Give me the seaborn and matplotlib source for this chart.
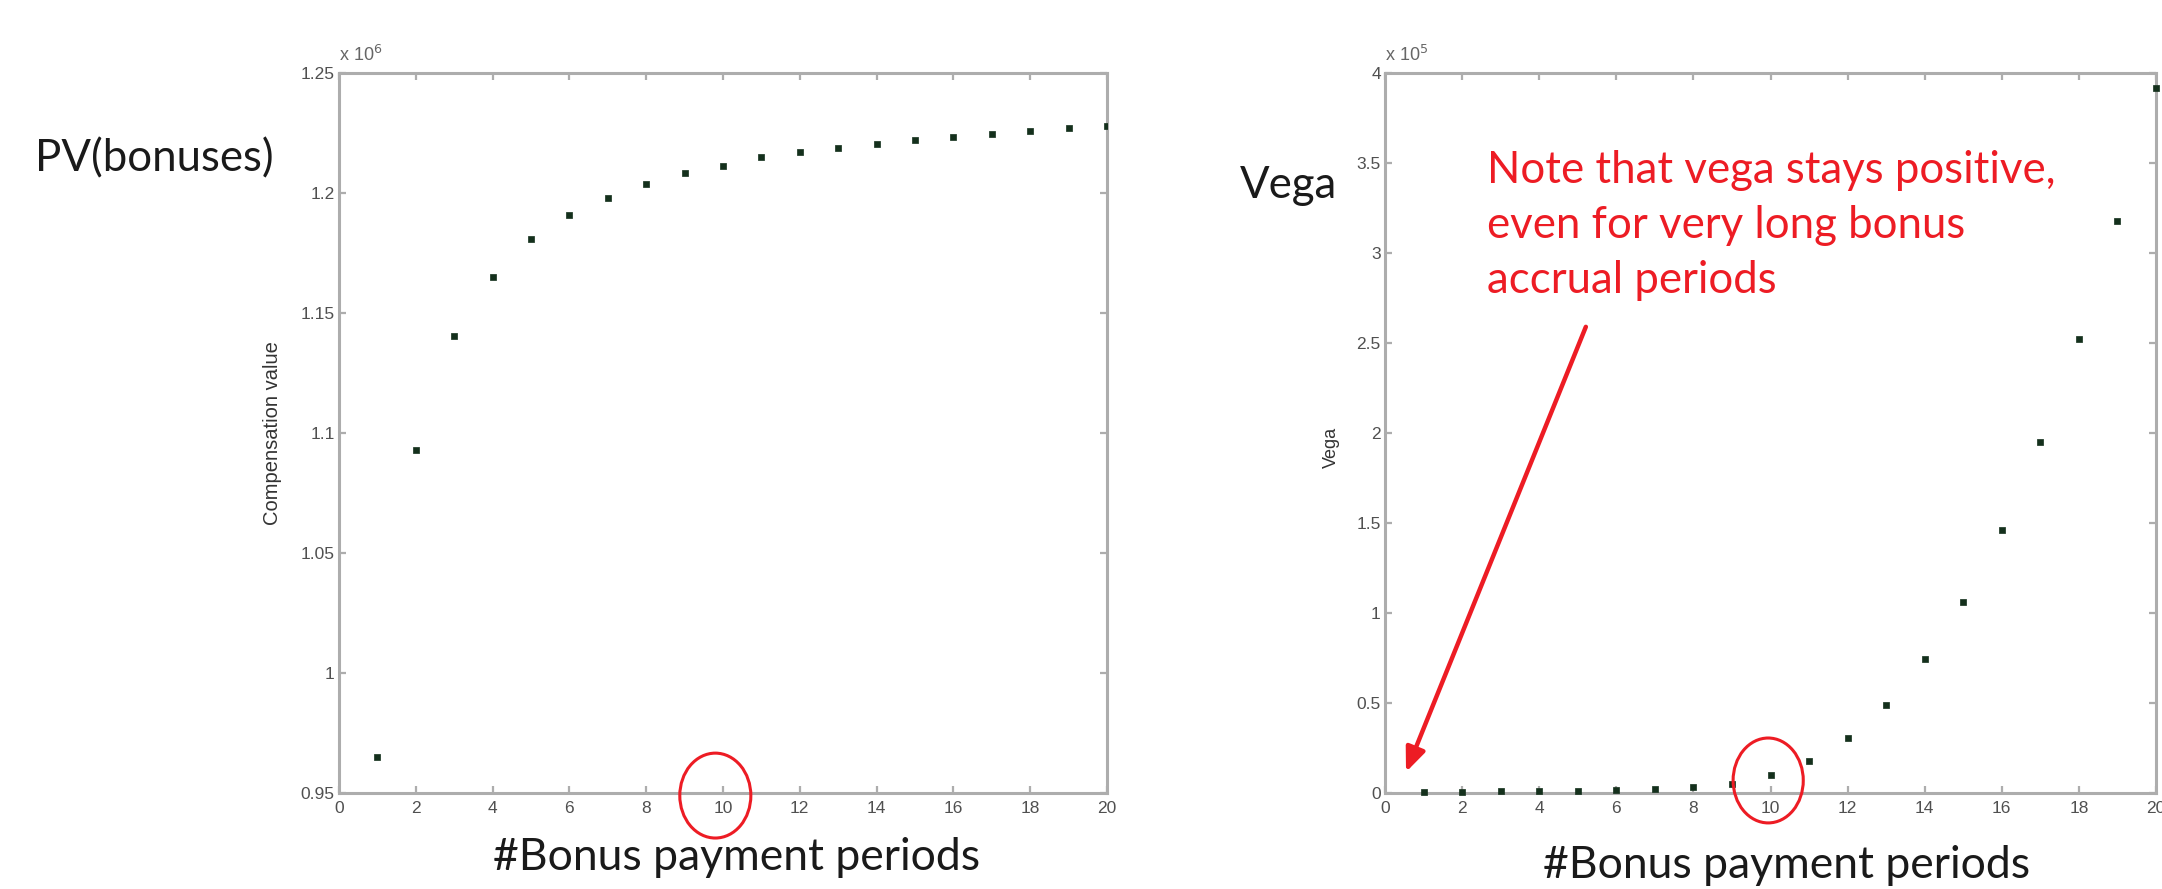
import matplotlib
matplotlib.use("Agg")
import matplotlib.pyplot as plt
from matplotlib.patches import Ellipse
import seaborn as sns
import numpy as np
import pandas as pd

# Number of bonus payment periods
periods = list(range(1, 21))

# Present value of bonuses (x 10^6)
pv_bonuses = [0.965, 1.093, 1.1404, 1.1649, 1.1807, 1.1907, 1.1978, 1.2036,
              1.2082, 1.2115, 1.2149, 1.2172, 1.2190, 1.2205, 1.2220, 1.2235,
              1.2248, 1.2260, 1.2272, 1.2280]

# Vega (x 10^5)
vega = [0.005, 0.006, 0.007, 0.009, 0.011, 0.014, 0.018, 0.03, 0.046, 0.10,
        0.175, 0.306, 0.487, 0.741, 1.059, 1.463, 1.95, 2.524, 3.176, 3.917]

pv_ticks = [0.95, 1, 1.05, 1.1, 1.15, 1.2, 1.25]
pv_ticklabels = ["0.95", "1", "1.05", "1.1", "1.15", "1.2", "1.25"]
vega_ticks = [0, 0.5, 1, 1.5, 2, 2.5, 3, 3.5, 4]
vega_ticklabels = ["0", "0.5", "1", "1.5", "2", "2.5", "3", "3.5", "4"]
x_ticks = list(range(0, 21, 2))

df = pd.DataFrame({"period": periods, "pv": pv_bonuses, "vega": vega})

sns.set_theme(style="white")
plt.rcParams["font.family"] = ["Liberation Sans", "DejaVu Sans"]

W, H = 2162, 889
fig = plt.figure(figsize=(W / 100, H / 100), dpi=100)
fig.patch.set_facecolor("white")

SPINE = "#adadad"
TICKTXT = "#505050"
MARK = "#14301c"
RED = "#ED1C24"
BIG = "Lato"


def frame(ax, ylim, yticks, yticklabels):
    ax.set_xlim(0, 20)
    ax.set_ylim(*ylim)
    ax.set_xticks(x_ticks)
    ax.set_xticklabels([str(t) for t in x_ticks])
    ax.set_yticks(yticks)
    ax.set_yticklabels(yticklabels)
    for sp in ax.spines.values():
        sp.set_visible(True)
        sp.set_color(SPINE)
        sp.set_linewidth(2.2)
    ax.tick_params(axis="both", which="both", direction="in", length=5,
                   width=1.6, color=SPINE, labelsize=12.5, labelcolor=TICKTXT,
                   top=True, right=True, bottom=True, left=True)
    ax.tick_params(axis="x", pad=6)
    ax.tick_params(axis="y", pad=3)
    ax.set_xlabel("")
    ax.grid(False)


# Left panel: present value of bonuses
ax1 = fig.add_axes([339 / W, 1 - 792.7 / H, 768 / W, 719.5 / H])
sns.scatterplot(data=df, x="period", y="pv", ax=ax1, marker="s", s=24,
                color=MARK, edgecolor=MARK, linewidth=0.5, zorder=3)
frame(ax1, (0.95, 1.25), pv_ticks, pv_ticklabels)
ax1.set_ylabel("Compensation value", fontsize=14.5, color="#333333")
ax1.yaxis.set_label_coords(-0.074, 0.5)
ax1.text(0.0, 1.012, r"x 10$^{6}$", transform=ax1.transAxes, fontsize=13,
         color="#666666", ha="left", va="bottom")

# Right panel: vega
ax2 = fig.add_axes([1385 / W, 1 - 792.7 / H, 771 / W, 719.5 / H])
sns.scatterplot(data=df, x="period", y="vega", ax=ax2, marker="s", s=24,
                color=MARK, edgecolor=MARK, linewidth=0.5, zorder=3,
                clip_on=False)
frame(ax2, (0, 4), vega_ticks, vega_ticklabels)
ax2.set_ylabel("Vega", fontsize=13, color="#333333")
ax2.yaxis.set_label_coords(-0.058, 0.48)
ax2.text(0.0, 1.012, r"x 10$^{5}$", transform=ax2.transAxes, fontsize=13,
         color="#666666", ha="left", va="bottom")

# Highlight period 10 on both panels
ax1.add_patch(Ellipse((9.8, 0.9488), 1.85, 0.0354, fill=False, ec=RED,
                      lw=2.2, clip_on=False, zorder=5))
ax2.add_patch(Ellipse((9.94, 0.068), 1.82, 0.472, fill=False, ec=RED,
                      lw=2.2, clip_on=False, zorder=5))

# Annotation on vega
ax2.annotate("", xy=(0.545, 0.115), xytext=(5.21, 2.59),
             xycoords="data", textcoords="data",
             arrowprops=dict(arrowstyle="-|>,head_length=1.2,head_width=0.5",
                             color=RED, lw=3.2, shrinkA=0, shrinkB=0),
             annotation_clip=False, zorder=6)
fig.text(1487 / W, 1 - 150 / H,
         "Note that vega stays positive,\neven for very long bonus\naccrual periods",
         fontsize=31.5, color=RED, family=BIG, ha="left", va="top",
         linespacing=1.42)

# Slide labels
fig.text(35 / W, 1 - 171 / H, "PV(bonuses)", fontsize=31.5, family=BIG,
         color="#1a1a1a", ha="left", va="baseline")
fig.text(1240 / W, 1 - 198 / H, "Vega", fontsize=31.5, family=BIG,
         color="#1a1a1a", ha="left", va="baseline")
fig.text(737 / W, 1 - 858 / H, "#Bonus payment periods", fontsize=32,
         family=BIG, color="#1a1a1a", ha="center", va="center")
fig.text(1787 / W, 1 - 866 / H, "#Bonus payment periods", fontsize=32,
         family=BIG, color="#1a1a1a", ha="center", va="center")

fig.savefig("out.png", dpi=100, facecolor="white")
